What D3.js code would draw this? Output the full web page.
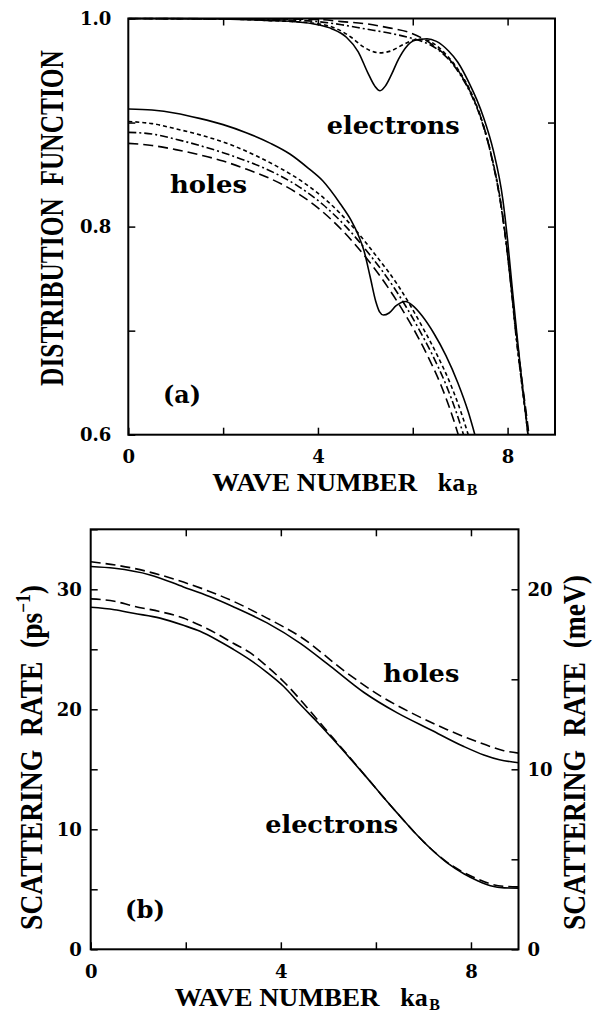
<!DOCTYPE html>
<html><head><meta charset="utf-8">
<script src="https://cdn.jsdelivr.net/npm/d3@7"></script>
<style>body{margin:0;background:#fff} text.t{white-space:pre}</style>
</head><body>
<svg id="c" width="597" height="1013"></svg>
<script>
// ================= DATA =================
// panel (a): distribution function vs wave number k*aB  -- [k, f]
const holesSolidA = [[0,0.913],[0.5,0.912],[1,0.909],[1.5,0.904],[2,0.898],[2.5,0.890],[3,0.880],[3.4,0.870],[3.8,0.856],[4.1,0.844],[4.47,0.822],[4.7,0.806],[4.85,0.792],[4.97,0.777],[5.1,0.752],[5.22,0.728],[5.3,0.718],[5.38,0.715],[5.5,0.717],[5.65,0.724],[5.85,0.728],[6.0,0.724],[6.2,0.714],[6.45,0.697],[6.7,0.676],[6.95,0.650],[7.17,0.622],[7.31,0.6],[7.4,0.585]];
const holesShortDashA = [[0,0.901],[0.5,0.899],[1,0.894],[1.6,0.887],[2.2,0.878],[2.7,0.868],[3.21,0.856],[3.71,0.842],[4.21,0.824],[4.71,0.801],[5.21,0.773],[5.71,0.742],[6.21,0.703],[6.51,0.677],[6.81,0.647],[7.03,0.620],[7.17,0.6],[7.25,0.588]];
const holesDashDotA = [[0,0.8906],[0.5,0.889],[1,0.884],[1.5,0.878],[2,0.871],[2.5,0.863],[3.11,0.851],[3.61,0.838],[4.11,0.821],[4.61,0.799],[5.11,0.772],[5.61,0.741],[6.11,0.703],[6.41,0.677],[6.71,0.647],[6.93,0.620],[7.07,0.6],[7.15,0.588]];
const holesLongDashA = [[0,0.880],[0.5,0.878],[1,0.874],[1.5,0.869],[2,0.863],[2.5,0.855],[3,0.846],[3.5,0.834],[4,0.818],[4.5,0.797],[5,0.771],[5.5,0.740],[6.0,0.703],[6.3,0.677],[6.6,0.647],[6.82,0.620],[6.96,0.6],[7.04,0.588]];
const elecSolidA = [[0,1.0],[1,1.0],[2,0.9995],[3,0.998],[3.5,0.997],[4,0.994],[4.3,0.990],[4.6,0.982],[4.85,0.968],[5.05,0.948],[5.2,0.935],[5.31,0.9306],[5.42,0.935],[5.55,0.946],[5.7,0.961],[5.85,0.972],[6.05,0.979],[6.3,0.9805],[6.5,0.978],[6.75,0.969],[6.95,0.958],[7.2,0.937],[7.35,0.922],[7.5,0.904],[7.7,0.873],[7.9,0.826],[8.0,0.787],[8.1,0.740],[8.2,0.695],[8.3,0.652],[8.43,0.6],[8.5,0.57]];
const elecShortDashA = [[0,1.0],[2,0.9995],[3,0.998],[4,0.995],[4.4,0.990],[4.7,0.982],[4.95,0.973],[5.3,0.967],[5.55,0.969],[5.8,0.975],[6.1,0.980],[6.3,0.979],[6.5,0.974],[6.75,0.963],[7.0,0.948],[7.25,0.927],[7.45,0.903],[7.65,0.870],[7.85,0.825],[7.97,0.785],[8.08,0.740],[8.18,0.695],[8.29,0.652],[8.43,0.6],[8.5,0.57]];
const elecDashDotA = [[0,1.0],[3,0.999],[4,0.997],[4.5,0.994],[5,0.990],[5.5,0.986],[5.9,0.982],[6.2,0.978],[6.5,0.971],[6.75,0.961],[7.0,0.946],[7.25,0.925],[7.45,0.902],[7.65,0.869],[7.85,0.823],[7.97,0.784],[8.08,0.739],[8.18,0.694],[8.3,0.65],[8.44,0.6],[8.5,0.575]];
const elecLongDashA = [[0,1.0],[3,0.9995],[4,0.999],[4.5,0.997],[5,0.995],[5.5,0.991],[5.9,0.987],[6.2,0.981],[6.5,0.972],[6.75,0.962],[7.0,0.947],[7.25,0.926],[7.45,0.903],[7.65,0.870],[7.85,0.824],[7.97,0.785],[8.08,0.74],[8.19,0.695],[8.31,0.65],[8.45,0.6],[8.5,0.58]];

// panel (b): scattering rate (ps^-1) vs k*aB -- [k, rate]
const holesSolidB = [[0,31.9],[0.5,31.75],[1.25,31.2],[1.95,30.2],[2.5,29.4],[3.0,28.55],[3.71,27.2],[4.41,25.5],[5.04,23.6],[5.75,21.4],[6.45,19.7],[7.15,18.3],[7.85,16.9],[8.27,16.2],[8.6,15.8],[9.0,15.55]];
const holesDashB = [[0,32.3],[0.9,31.75],[1.95,30.6],[3.0,29.0],[3.71,27.6],[4.41,26.05],[5.4,23.0],[6.1,21.1],[6.8,19.6],[7.5,18.3],[8.2,17.2],[8.69,16.55],[9.0,16.35]];
const elecSolidB = [[0,28.5],[0.5,28.3],[0.9,28.0],[1.46,27.6],[1.95,27.0],[2.3,26.5],[2.65,25.8],[3.0,25.0],[3.36,24.1],[3.7,23.1],[4.06,21.9],[4.41,20.4],[4.8,18.8],[5.1,17.5],[5.47,15.85],[5.8,14.35],[6.1,12.95],[6.45,11.35],[6.8,9.8],[7.15,8.4],[7.5,7.2],[7.85,6.3],[8.15,5.7],[8.41,5.3],[8.7,5.12],[9.0,5.1]];
const elecDashB = [[0,29.2],[0.5,29.0],[0.9,28.6],[1.45,28.15],[1.95,27.6],[2.3,27.0],[2.65,26.3],[3.0,25.5],[3.36,24.7],[3.7,23.6],[4.06,22.3],[4.41,20.8],[4.8,19.0],[5.1,17.6],[5.47,15.9],[5.8,14.35],[6.1,12.95],[6.45,11.35],[6.8,9.8],[7.15,8.4],[7.5,7.25],[7.85,6.4],[8.15,5.85],[8.41,5.45],[8.7,5.25],[9.0,5.2]];

// ticks
const xTicks = [0,2,4,6,8];
const xLabels = [0,4,8];
const yTicksA = [0.6,0.7,0.8,0.9,1.0];
const yLabelsA = ["0.6","0.8","1.0"];
const yTicksB = [0,5,10,15,20,25,30,35];
const yLabelsB = [0,10,20,30];
const yTicksBr = [0,5,10,15,20];
const yLabelsBr = [0,10,20];
const meVperPs = 2/3;   // right-hand axis conversion

// ================= LAYOUT =================
const svg = d3.select("#c");
const A = {l:128.3, r:555, t:18.5, b:434.7};
const B = {l:90.7, r:518.5, t:529.3, b:949.3};
const xA = d3.scaleLinear().domain([0,9]).range([A.l,A.r]);
const yA = d3.scaleLinear().domain([0.6,1.0]).range([A.b,A.t]);
const xB = d3.scaleLinear().domain([0,9]).range([B.l,B.r]);
const yB = d3.scaleLinear().domain([0,35]).range([B.b,B.t]);
const yBr = d3.scaleLinear().domain([0,35*meVperPs]).range([B.b,B.t]);

const TICKFONT = "DejaVu Serif";
function styleAxis(g){
  g.attr("font-family",TICKFONT).attr("font-size",18).attr("font-weight","bold");
  g.select(".domain").remove();
  g.selectAll(".tick line").attr("stroke","#000").attr("stroke-width",1.5);
  g.selectAll(".tick text").attr("fill","#000");
}
const has = (arr,d)=>arr.some(v=>Math.abs(+v-d)<1e-6);

// ---- panel (a) axes ----
svg.append("g").attr("transform",`translate(0,${A.b})`)
  .call(d3.axisBottom(xA).tickValues(xTicks).tickSize(-7).tickPadding(16).tickFormat(d=>has(xLabels,d)?d:""))
  .call(styleAxis);
svg.append("g").attr("transform",`translate(0,${A.t})`)
  .call(d3.axisTop(xA).tickValues(xTicks.slice(1)).tickSize(-7).tickFormat(""))
  .call(styleAxis);
svg.append("g").attr("transform",`translate(${A.l},0)`)
  .call(d3.axisLeft(yA).tickValues(yTicksA).tickSize(-7).tickPadding(17).tickFormat(d=>has(yLabelsA,d)?d3.format(".1f")(d):""))
  .call(styleAxis);
svg.append("g").attr("transform",`translate(${A.r},0)`)
  .call(d3.axisRight(yA).tickValues(yTicksA.slice(1,4)).tickSize(-7).tickFormat(""))
  .call(styleAxis);

// ---- panel (b) axes ----
svg.append("g").attr("transform",`translate(0,${B.b})`)
  .call(d3.axisBottom(xB).tickValues(xTicks).tickSize(-7).tickPadding(16).tickFormat(d=>has(xLabels,d)?d:""))
  .call(styleAxis);
svg.append("g").attr("transform",`translate(0,${B.t})`)
  .call(d3.axisTop(xB).tickValues(xTicks.slice(1)).tickSize(-7).tickFormat(""))
  .call(styleAxis);
svg.append("g").attr("transform",`translate(${B.l},0)`)
  .call(d3.axisLeft(yB).tickValues(yTicksB).tickSize(-7).tickPadding(9).tickFormat(d=>has(yLabelsB,d)?d:""))
  .call(styleAxis);
svg.append("g").attr("transform",`translate(${B.r},0)`)
  .call(d3.axisRight(yBr).tickValues(yTicksBr).tickSize(-7).tickPadding(9).tickFormat(d=>has(yLabelsBr,d)?d:""))
  .call(styleAxis);

// frames
[A,B].forEach(P=>{
  svg.append("rect").attr("x",P.l).attr("y",P.t).attr("width",P.r-P.l).attr("height",P.b-P.t)
    .attr("fill","none").attr("stroke","#000").attr("stroke-width",2);
});

// clip paths
const defs = svg.append("defs");
defs.append("clipPath").attr("id","clipA").append("rect").attr("x",A.l).attr("y",A.t-1).attr("width",A.r-A.l).attr("height",A.b-A.t+1);
defs.append("clipPath").attr("id","clipB").append("rect").attr("x",B.l).attr("y",B.t).attr("width",B.r-B.l).attr("height",B.b-B.t);

const lineA = d3.line().x(d=>xA(d[0])).y(d=>yA(d[1])).curve(d3.curveMonotoneX);
const lineB = d3.line().x(d=>xB(d[0])).y(d=>yB(d[1])).curve(d3.curveMonotoneX);

const SOLID=null, SHORT="4,3", DASHDOT="8,3,2,3", LONG="10,5";
const gA = svg.append("g").attr("clip-path","url(#clipA)");
[[holesLongDashA,LONG],[holesDashDotA,DASHDOT],[holesShortDashA,SHORT],[holesSolidA,SOLID],
 [elecLongDashA,LONG],[elecDashDotA,DASHDOT],[elecShortDashA,SHORT],[elecSolidA,SOLID]].forEach(([data,dash])=>{
  gA.append("path").attr("d",lineA(data)).attr("fill","none").attr("stroke","#000")
    .attr("stroke-width",1.6).attr("stroke-dasharray",dash);
});
const gB = svg.append("g").attr("clip-path","url(#clipB)");
[[holesDashB,"10,5"],[holesSolidB,SOLID],[elecDashB,"10,5"],[elecSolidB,SOLID]].forEach(([data,dash])=>{
  gB.append("path").attr("d",lineB(data)).attr("fill","none").attr("stroke","#000")
    .attr("stroke-width",1.6).attr("stroke-dasharray",dash);
});

// ================= TEXT =================
function fitH(t,x0,base,len){
  const L=t.node().getComputedTextLength();
  t.attr("transform",`translate(${x0},${base}) scale(${len/L},1)`);
}
function fitV(t,cx,cy,len){
  t.attr("text-anchor","middle");
  const L=t.node().getComputedTextLength();
  t.attr("transform",`translate(${cx},${cy}) rotate(-90) scale(${len/L},1)`);
}
const TF="Liberation Serif";
function title(size){return svg.append("text").attr("class","t").attr("font-family",TF).attr("font-weight","bold").attr("font-size",size).attr("fill","#000");}

// x titles
[A,B].forEach(P=>{
  const base=P.b+56.5;
  const t=title(26).text("WAVE NUMBER");
  fitH(t,P.l+84,base,205);
  const k=title(26).attr("x",P.l+309.5).attr("y",base).text("ka");
  k.append("tspan").attr("font-size",16).attr("dx",1.5).attr("dy",4).text("B");
});

// y titles
fitV(title(34).text("DISTRIBUTION  FUNCTION"),63,218,336);
const tb=title(32).text("SCATTERING  RATE  (ps");
tb.append("tspan").attr("font-size",20).attr("dy",-12).text("−1");
tb.append("tspan").attr("dy",12).text(")");
fitV(tb,42,757.5,345);
fitV(title(32).text("SCATTERING  RATE  (meV)"),585,752.5,355);

// in-plot labels
function lab(s,x0,base,len){
  const t=svg.append("text").attr("font-family","DejaVu Serif").attr("font-weight","bold").attr("font-size",24).attr("fill","#000").text(s);
  fitH(t,x0,base,len);
}
lab("electrons",326.7,134,133);
lab("holes",170,193,77);
lab("(a)",163,403,38);
lab("holes",383.3,682,76);
lab("electrons",265.2,833,133);
lab("(b)",125,918,40);
</script>
</body></html>
